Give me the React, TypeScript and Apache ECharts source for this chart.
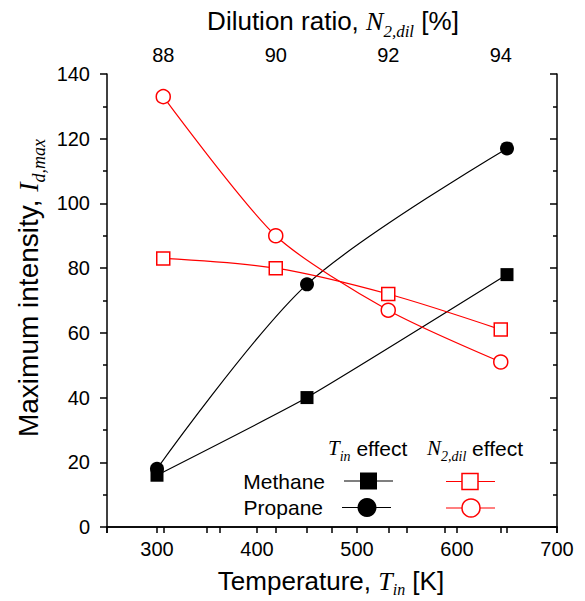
import React, { useEffect, useRef } from "react";
import * as echarts from "echarts";

// ---- data ----
const temperatureK = [300, 450, 650];
const methaneTin = [16, 40, 78];
const propaneTin = [18, 75, 117];

const dilutionRatio = [88, 90, 92, 94];
const methaneN2 = [83, 80, 72, 61];
const propaneN2 = [133, 90, 67, 51];

const bottomTickLabels = ["300", "400", "500", "600", "700"];
const topTickLabels = ["88", "90", "92", "94"];

const SANS = "Liberation Sans, Arial, sans-serif";
const SERIF = "Liberation Serif, Times New Roman, serif";
const RED = "#ff0000";

export default function App() {
  const ref = useRef<HTMLDivElement>(null);

  useEffect(() => {
    if (!ref.current) return;
    const chart = echarts.init(ref.current, null, { renderer: "svg" });

    const labelStyle = { fontSize: 20, fontFamily: SANS, color: "#000" };
    const axisLine = { show: true, lineStyle: { color: "#000", width: 1.5 } };

    const richTitle = (big: number, small: number, pad: number) => ({
      a: { fontSize: big, fontFamily: SANS, color: "#000" },
      i: { fontSize: big, fontFamily: SERIF, fontStyle: "italic", color: "#000" },
      s: { fontSize: small, fontFamily: SERIF, fontStyle: "italic", color: "#000", padding: [pad, 0, 0, 0] },
    });

    const option: any = {
      animation: false,
      backgroundColor: "#fff",
      grid: { left: 107, top: 74, width: 450, height: 453 },
      xAxis: [
        {
          type: "value",
          position: "bottom",
          min: 250,
          max: 700,
          interval: 50,
          axisLine,
          axisTick: { show: true, inside: false, length: 6, lineStyle: { color: "#000", width: 1.5 } },
          axisLabel: {
            ...labelStyle,
            margin: 12,
            formatter: (v: number) => (bottomTickLabels.includes(String(v)) ? String(v) : ""),
          },
          splitLine: { show: false },
        },
        {
          type: "value",
          position: "top",
          min: 87,
          max: 95,
          interval: 1,
          axisLine,
          axisTick: { show: true, inside: true, length: 6, lineStyle: { color: "#000", width: 1.5 } },
          axisLabel: {
            ...labelStyle,
            margin: 9,
            formatter: (v: number) => (topTickLabels.includes(String(v)) ? String(v) : ""),
          },
          splitLine: { show: false },
        },
      ],
      yAxis: [
        {
          type: "value",
          position: "left",
          min: 0,
          max: 140,
          interval: 20,
          axisLine,
          axisTick: { show: true, inside: false, length: 7, lineStyle: { color: "#000", width: 1.5 } },
          minorTick: { show: true, splitNumber: 2, length: 4, lineStyle: { color: "#000", width: 1.5 } },
          axisLabel: { ...labelStyle, margin: 17 },
          splitLine: { show: false },
        },
        {
          type: "value",
          position: "right",
          min: 0,
          max: 140,
          interval: 20,
          axisLine,
          axisTick: { show: true, inside: true, length: 7, lineStyle: { color: "#000", width: 1.5 } },
          minorTick: { show: true, splitNumber: 2, length: 4, lineStyle: { color: "#000", width: 1.5 } },
          axisLabel: { show: false },
          splitLine: { show: false },
        },
      ],
      series: [
        {
          name: "Methane (Tin effect)",
          type: "line",
          xAxisIndex: 0,
          yAxisIndex: 0,
          data: temperatureK.map((t, i) => [t, methaneTin[i]]),
          symbol: "rect",
          symbolSize: 13,
          smooth: 0.15,
          itemStyle: { color: "#000" },
          lineStyle: { color: "#000", width: 1.2 },
          emphasis: { disabled: true },
        },
        {
          name: "Propane (Tin effect)",
          type: "line",
          xAxisIndex: 0,
          yAxisIndex: 0,
          data: temperatureK.map((t, i) => [t, propaneTin[i]]),
          symbol: "circle",
          symbolSize: 14,
          smooth: 0.3,
          itemStyle: { color: "#000" },
          lineStyle: { color: "#000", width: 1.2 },
          emphasis: { disabled: true },
        },
        {
          name: "Methane (N2,dil effect)",
          type: "line",
          xAxisIndex: 1,
          yAxisIndex: 0,
          data: dilutionRatio.map((d, i) => [d, methaneN2[i]]),
          symbol: "rect",
          symbolSize: 13,
          smooth: 0.3,
          itemStyle: { color: "#fff", borderColor: RED, borderWidth: 1.5 },
          lineStyle: { color: RED, width: 1.2 },
          emphasis: { disabled: true },
        },
        {
          name: "Propane (N2,dil effect)",
          type: "line",
          xAxisIndex: 1,
          yAxisIndex: 0,
          data: dilutionRatio.map((d, i) => [d, propaneN2[i]]),
          symbol: "circle",
          symbolSize: 14,
          smooth: 0.25,
          itemStyle: { color: "#fff", borderColor: RED, borderWidth: 1.5 },
          lineStyle: { color: RED, width: 1.2 },
          emphasis: { disabled: true },
        },
      ],
      graphic: [
        // axis titles
        {
          type: "text",
          x: 333,
          y: 21,
          style: {
            text: "{a|Dilution ratio, }{i|N}{s|2,dil}{a| [%]}",
            rich: richTitle(26, 17, 20),
            align: "center",
            verticalAlign: "middle",
          },
        },
        {
          type: "text",
          x: 331,
          y: 581,
          style: {
            text: "{a|Temperature, }{i|T}{s|in}{a| [K]}",
            rich: richTitle(26, 16, 16),
            align: "center",
            verticalAlign: "middle",
          },
        },
        {
          type: "text",
          x: 28,
          y: 288,
          rotation: Math.PI / 2,
          style: {
            text: "{a|Maximum intensity, }{i|I}{s|d,max}",
            rich: richTitle(28, 18, 22),
            align: "center",
            verticalAlign: "middle",
          },
        },
        // legend
        {
          type: "text",
          x: 328,
          y: 448,
          style: {
            text: "{i|T}{s|in}{a| effect}",
            rich: richTitle(21, 14, 16),
            align: "left",
            verticalAlign: "middle",
          },
        },
        {
          type: "text",
          x: 427,
          y: 448,
          style: {
            text: "{i|N}{s|2,dil}{a| effect}",
            rich: richTitle(21, 14, 16),
            align: "left",
            verticalAlign: "middle",
          },
        },
        {
          type: "text",
          x: 325,
          y: 481,
          style: { text: "Methane", font: `21px ${SANS}`, fill: "#000", align: "right", verticalAlign: "middle" },
        },
        {
          type: "text",
          x: 323,
          y: 507,
          style: { text: "Propane", font: `21px ${SANS}`, fill: "#000", align: "right", verticalAlign: "middle" },
        },
        { type: "line", shape: { x1: 344, y1: 481, x2: 393, y2: 481 }, style: { stroke: "#000", lineWidth: 1.2 } },
        { type: "rect", shape: { x: 360, y: 472.5, width: 17, height: 17 }, style: { fill: "#000" } },
        { type: "line", shape: { x1: 342, y1: 507.5, x2: 391, y2: 507.5 }, style: { stroke: "#000", lineWidth: 1.2 } },
        { type: "circle", shape: { cx: 367, cy: 507.5, r: 9.5 }, style: { fill: "#000" } },
        { type: "line", shape: { x1: 446, y1: 481.5, x2: 495, y2: 481.5 }, style: { stroke: RED, lineWidth: 1.2 } },
        { type: "rect", shape: { x: 462, y: 473.5, width: 16, height: 16 }, style: { fill: "#fff", stroke: RED, lineWidth: 1.5 } },
        { type: "line", shape: { x1: 446, y1: 508, x2: 495, y2: 508 }, style: { stroke: RED, lineWidth: 1.2 } },
        { type: "circle", shape: { cx: 471, cy: 508, r: 9 }, style: { fill: "#fff", stroke: RED, lineWidth: 1.5 } },
      ],
    };

    chart.setOption(option);
    return () => chart.dispose();
  }, []);

  return (
    <div
      ref={ref}
      style={{ position: "fixed", left: 0, top: 0, width: 585, height: 601, background: "#fff" }}
    />
  );
}
